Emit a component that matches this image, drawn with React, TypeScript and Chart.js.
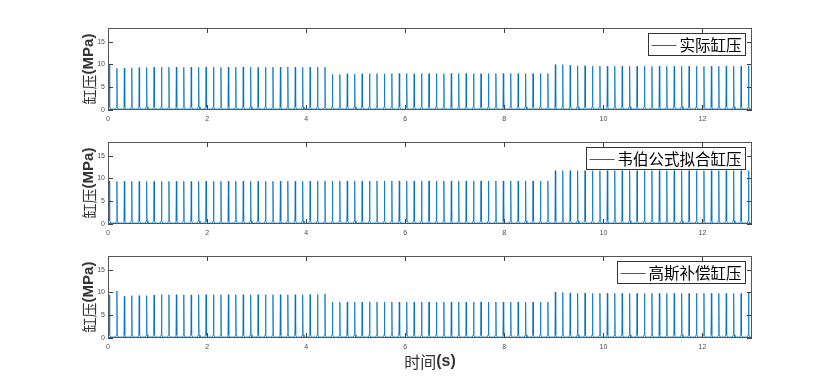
import React, { useEffect, useRef } from "react";
import { Chart, registerables } from "chart.js";
Chart.register(...registerables);

// ---- data ----
const pulseTimes = [
  0.03, 0.18, 0.33, 0.48, 0.63, 0.78, 0.93, 1.08, 1.23, 1.38,
  1.53, 1.68, 1.83, 1.98, 2.13, 2.28, 2.43, 2.58, 2.73, 2.88,
  3.03, 3.18, 3.33, 3.48, 3.63, 3.78, 3.93, 4.08, 4.23, 4.38,
  4.53, 4.68, 4.83, 4.98, 5.13, 5.28, 5.43, 5.58, 5.73, 5.88,
  6.03, 6.18, 6.33, 6.48, 6.63, 6.78, 6.93, 7.08, 7.23, 7.38,
  7.53, 7.68, 7.83, 7.98, 8.13, 8.28, 8.43, 8.58, 8.73, 8.88,
  9.03, 9.18, 9.33, 9.48, 9.63, 9.78, 9.93, 10.08, 10.23, 10.38,
  10.53, 10.68, 10.83, 10.98, 11.13, 11.28, 11.43, 11.58, 11.73, 11.88,
  12.03, 12.18, 12.33, 12.48, 12.63, 12.78, 12.93,
];

const actualPeaks = [
  10.0, 9.15, 9.2, 9.25, 9.3, 9.35, 9.4, 9.4, 9.4, 9.4,
  9.35, 9.4, 9.4, 9.45, 9.4, 9.35, 9.4, 9.4, 9.45, 9.4,
  9.35, 9.4, 9.4, 9.4, 9.45, 9.4, 9.4, 9.4, 9.4, 9.4,
  7.8, 7.8, 7.95, 7.9, 7.95, 8.0, 8.0, 7.95, 8.0, 8.0,
  8.0, 7.95, 8.0, 8.0, 8.0, 7.95, 8.0, 8.0, 8.0, 8.0,
  7.95, 8.0, 8.0, 8.0, 8.0, 8.0, 8.0, 8.0, 8.0, 8.0,
  9.95, 9.95, 9.8, 9.7, 9.7, 9.65, 9.65, 9.6, 9.6, 9.6,
  9.6, 9.6, 9.6, 9.55, 9.6, 9.6, 9.55, 9.6, 9.6, 9.6,
  9.55, 9.6, 9.6, 9.6, 9.6, 9.6, 9.75,
];

const weberPeaks = [
  9.5, 9.35, 9.35, 9.35, 9.35, 9.35, 9.35, 9.35, 9.35, 9.35,
  9.35, 9.35, 9.35, 9.4, 9.4, 9.4, 9.4, 9.4, 9.4, 9.4,
  9.4, 9.4, 9.4, 9.4, 9.4, 9.4, 9.4, 9.4, 9.45, 9.45,
  9.45, 9.45, 9.45, 9.45, 9.45, 9.45, 9.45, 9.45, 9.45, 9.45,
  9.45, 9.45, 9.45, 9.45, 9.45, 9.45, 9.45, 9.45, 9.45, 9.45,
  9.45, 9.45, 9.45, 9.45, 9.45, 9.45, 9.45, 9.45, 9.45, 9.45,
  11.7, 11.7, 11.7, 11.7, 11.7, 11.7, 11.7, 11.7, 11.7, 11.7,
  11.7, 11.7, 11.7, 11.7, 11.7, 11.7, 11.7, 11.7, 11.7, 11.7,
  11.7, 11.7, 11.7, 11.7, 11.7, 11.7, 11.7,
];

const gaussPeaks = [
  9.4, 10.35, 9.15, 9.3, 9.3, 9.3, 9.4, 9.5, 9.5, 9.5,
  9.5, 9.45, 9.5, 9.5, 9.5, 9.5, 9.5, 9.5, 9.5, 9.5,
  9.5, 9.5, 9.5, 9.5, 9.5, 9.5, 9.5, 9.55, 9.55, 9.7,
  7.9, 7.85, 7.9, 7.9, 7.9, 7.95, 7.9, 7.9, 7.95, 7.9,
  7.9, 7.9, 7.9, 7.9, 7.9, 7.9, 7.9, 7.9, 7.9, 7.9,
  7.9, 7.9, 7.9, 7.9, 7.9, 7.9, 7.9, 7.9, 7.9, 7.9,
  10.1, 10.0, 9.9, 9.85, 9.85, 9.8, 9.8, 9.8, 9.8, 9.8,
  9.8, 9.8, 9.8, 9.8, 9.8, 9.8, 9.8, 9.8, 9.8, 9.8,
  9.8, 9.8, 9.8, 9.8, 9.8, 9.8, 10.0,
];

// pulse profile around each peak time (offset in s, level kind)
const pulseOffsets = [-0.026, -0.008, 0, 0.008, 0.026];
const pulseKinds = ["base", "shoulder", "peak", "shoulder", "base"];
const baselineLevel = 0.2;
const shoulderLevel = 0.7;

const legendLabels = ["实际缸压", "韦伯公式拟合缸压", "高斯补偿缸压"];
const yTitleMain = "缸压";
const yTitleUnit = "(MPa)";
const xTitleMain = "时间";
const xTitleUnit = "(s)";

const X_MIN = 0;
const X_MAX = 13;
const Y_MIN = 0;
const Y_MAX = 18;
const X_STEP = 2;
const Y_STEP = 5;

// ---- layout ----
const W = 831;
const PAD_TOP = 25;
const PLOT_H = 82;
const PLOT_LEFT = 108;
const PAD_RIGHT = 79;
const panelTops = [28, 142, 256];

const CJK = '"Noto Sans CJK SC", "Noto Sans CJK JP", sans-serif';
const LAT = '"Liberation Sans", Arial, sans-serif';
const LINE_COLOR = "#0072BD";

function buildData(peaks: number[]) {
  const pts: { x: number; y: number }[] = [{ x: X_MIN, y: baselineLevel }];
  pulseTimes.forEach((t, k) => {
    pulseOffsets.forEach((off, j) => {
      const kind = pulseKinds[j];
      const y = kind === "peak" ? peaks[k] : kind === "shoulder" ? shoulderLevel : baselineLevel;
      pts.push({ x: t + off, y });
    });
  });
  pts.push({ x: X_MAX, y: baselineLevel });
  return pts;
}

function drawMixed(
  ctx: CanvasRenderingContext2D,
  parts: { text: string; font: string }[],
  cx: number,
  cy: number
) {
  let total = 0;
  const widths = parts.map((p) => {
    ctx.font = p.font;
    const w = ctx.measureText(p.text).width;
    total += w;
    return w;
  });
  let x = cx - total / 2;
  ctx.textBaseline = "middle";
  ctx.textAlign = "left";
  parts.forEach((p, i) => {
    ctx.font = p.font;
    ctx.fillText(p.text, x, cy);
    x += widths[i];
  });
}

function makeFramePlugin(label: string, showXTitle: boolean) {
  return {
    id: "frame",
    afterDraw(chart: any) {
      const ctx: CanvasRenderingContext2D = chart.ctx;
      const a = chart.chartArea;
      const xs = chart.scales.x;
      const ys = chart.scales.y;
      ctx.save();
      // inward ticks
      ctx.strokeStyle = "#404040";
      ctx.lineWidth = 1;
      const TL = 5;
      ctx.beginPath();
      xs.ticks.forEach((t: any) => {
        const px = Math.round(xs.getPixelForValue(t.value)) + 0.5;
        ctx.moveTo(px, a.bottom);
        ctx.lineTo(px, a.bottom - TL);
        ctx.moveTo(px, a.top);
        ctx.lineTo(px, a.top + TL);
      });
      ys.ticks.forEach((t: any) => {
        const py = Math.round(ys.getPixelForValue(t.value)) + 0.5;
        ctx.moveTo(a.left, py);
        ctx.lineTo(a.left + TL, py);
        ctx.moveTo(a.right, py);
        ctx.lineTo(a.right - TL, py);
      });
      ctx.stroke();
      // box
      ctx.strokeStyle = "#555";
      ctx.strokeRect(a.left + 0.5, a.top + 0.5, a.right - a.left - 1, a.bottom - a.top - 1);

      // legend
      const lf = `15.5px ${CJK}`;
      ctx.font = lf;
      const tw = ctx.measureText(label).width;
      const bw = 3 + 25 + 3 + tw + 4;
      const bh = 22;
      const bx = Math.round(a.right - 6.5 - bw) + 0.5;
      const by = a.top + 5 + 0.5;
      ctx.fillStyle = "#fff";
      ctx.fillRect(bx, by, bw, bh);
      ctx.strokeStyle = "#333";
      ctx.strokeRect(bx, by, bw, bh);
      ctx.strokeStyle = LINE_COLOR;
      ctx.beginPath();
      const ly = Math.round(by + bh / 2) + 0.5;
      ctx.moveTo(bx + 3, ly);
      ctx.lineTo(bx + 28, ly);
      ctx.stroke();
      ctx.fillStyle = "#000";
      ctx.textBaseline = "middle";
      ctx.textAlign = "left";
      ctx.fillText(label, bx + 31, by + bh / 2 + 0.5);

      // y title
      ctx.fillStyle = "#333";
      ctx.save();
      ctx.translate(89, (a.top + a.bottom) / 2);
      ctx.rotate(-Math.PI / 2);
      drawMixed(
        ctx,
        [
          { text: yTitleMain, font: `15px ${CJK}` },
          { text: yTitleUnit, font: `bold 15px ${LAT}` },
        ],
        0,
        0
      );
      ctx.restore();

      if (showXTitle) {
        drawMixed(
          ctx,
          [
            { text: xTitleMain, font: `16px ${CJK}` },
            { text: xTitleUnit, font: `bold 16px ${LAT}` },
          ],
          (a.left + a.right) / 2,
          a.bottom + 24
        );
      }
      ctx.restore();
    },
  };
}

function Panel({ peaks, label, top, showXTitle }: { peaks: number[]; label: string; top: number; showXTitle: boolean }) {
  const ref = useRef<HTMLCanvasElement>(null);
  const bottomSpace = showXTitle ? 40 : 20;
  const H = PAD_TOP + PLOT_H + bottomSpace;
  useEffect(() => {
    if (!ref.current) return;
    const chart = new Chart(ref.current, {
      type: "line",
      data: {
        datasets: [
          {
            data: buildData(peaks),
            borderColor: LINE_COLOR,
            borderWidth: 0.8,
            pointRadius: 0,
            tension: 0,
            fill: false,
          },
        ],
      },
      options: {
        animation: false,
        responsive: false,
        maintainAspectRatio: false,
        events: [],
        layout: { padding: { top: PAD_TOP, right: PAD_RIGHT, left: 0, bottom: 0 } },
        plugins: { legend: { display: false }, tooltip: { enabled: false } },
        scales: {
          x: {
            type: "linear",
            min: X_MIN,
            max: X_MAX,
            grid: { display: false, drawTicks: false },
            border: { display: false },
            ticks: {
              stepSize: X_STEP,
              includeBounds: false,
              maxRotation: 0,
              autoSkip: false,
              padding: 5,
              color: "#4d4d4d",
              font: { family: LAT, size: 7 },
            },
            afterFit: (s: any) => {
              s.height = bottomSpace;
            },
          },
          y: {
            type: "linear",
            min: Y_MIN,
            max: Y_MAX,
            grid: { display: false, drawTicks: false },
            border: { display: false },
            ticks: {
              stepSize: Y_STEP,
              includeBounds: false,
              padding: 3,
              color: "#4d4d4d",
              font: { family: LAT, size: 7 },
            },
            afterFit: (s: any) => {
              s.width = PLOT_LEFT;
            },
          },
        },
      } as any,
      plugins: [makeFramePlugin(label, showXTitle)],
    });
    return () => chart.destroy();
  }, []);
  return (
    <canvas
      ref={ref}
      width={W}
      height={H}
      style={{ position: "absolute", left: 0, top: top - PAD_TOP, width: W, height: H }}
    />
  );
}

export default function App() {
  const series = [actualPeaks, weberPeaks, gaussPeaks];
  return (
    <div
      style={{
        position: "fixed",
        left: 0,
        top: 0,
        width: W,
        height: 381,
        overflow: "hidden",
        background: "#fff",
      }}
    >
      {series.map((p, i) => (
        <Panel key={i} peaks={p} label={legendLabels[i]} top={panelTops[i]} showXTitle={i === 2} />
      ))}
    </div>
  );
}
